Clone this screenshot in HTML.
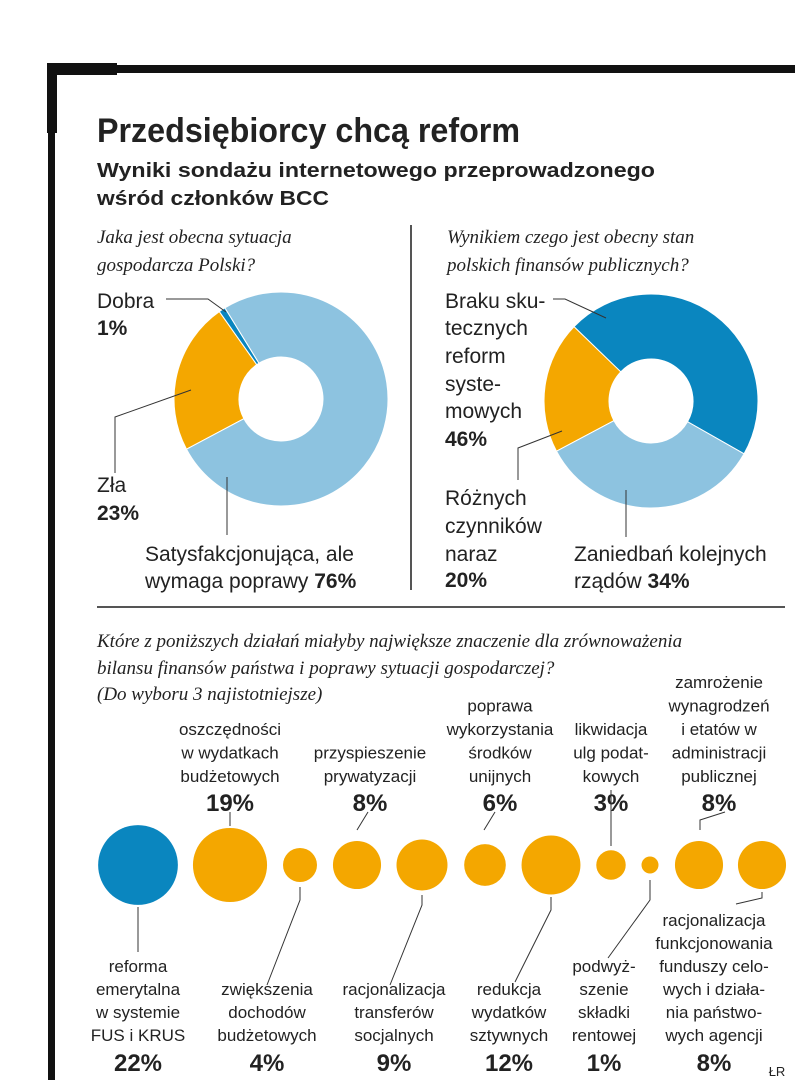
<!DOCTYPE html>
<html><head><meta charset="utf-8"><style>
html,body{margin:0;padding:0;background:#fff}
svg{display:block}
text{font-family:"Liberation Sans",sans-serif;fill:#222}
.q{font-family:"Liberation Serif",serif;font-style:italic;font-size:19px}
.l{font-size:21px}
.b{font-weight:bold}
.s{font-size:17px}
.p{font-size:24px;font-weight:bold}
.ln{stroke:#333;stroke-width:1;fill:none}
</style></head><body>
<svg id="c" width="805" height="1089" viewBox="0 0 805 1089">
<rect x="47" y="63" width="70" height="12" fill="#111"/>
<rect x="47" y="65" width="748" height="8" fill="#111"/>
<rect x="47" y="63" width="10" height="70" fill="#111"/>
<rect x="48" y="63" width="7" height="1017" fill="#111"/>
<text x="97" y="142" class="b" font-size="34" textLength="423" lengthAdjust="spacingAndGlyphs">Przedsiębiorcy chcą reform</text>
<text x="97" y="177" class="b" font-size="20" textLength="558" lengthAdjust="spacingAndGlyphs">Wyniki sondażu internetowego przeprowadzonego</text>
<text x="97" y="205" class="b" font-size="20" textLength="232" lengthAdjust="spacingAndGlyphs">wśród członków BCC</text>
<line x1="411" y1="225" x2="411" y2="590" stroke="#555" stroke-width="2"/>
<line x1="97" y1="607" x2="785" y2="607" stroke="#555" stroke-width="2"/>
<text x="97" y="243" class="q">Jaka jest obecna sytuacja</text>
<text x="97" y="271" class="q">gospodarcza Polski?</text>
<text x="447" y="243" class="q">Wynikiem czego jest obecny stan</text>
<text x="447" y="271" class="q">polskich finansów publicznych?</text>
<g id="pies"></g>
<g>
<text x="97" y="308" class="l">Dobra</text><text x="97" y="335" class="l b">1%</text>
<text x="97" y="492" class="l">Zła</text><text x="97" y="520" class="l b">23%</text>
<text x="145" y="561" class="l">Satysfakcjonująca, ale</text>
<text x="145" y="588" class="l">wymaga poprawy <tspan class="b">76%</tspan></text>
<polyline class="ln" points="166,299 208,299 226,312"/>
<polyline class="ln" points="191,390 115,417 115,473"/>
<polyline class="ln" points="227,477 227,535"/>
</g>
<g>
<text x="445" y="308" class="l">Braku sku-</text><text x="445" y="335" class="l">tecznych</text>
<text x="445" y="363" class="l">reform</text><text x="445" y="391" class="l">syste-</text>
<text x="445" y="418" class="l">mowych</text><text x="445" y="446" class="l b">46%</text>
<text x="445" y="505" class="l">Różnych</text><text x="445" y="533" class="l">czynników</text>
<text x="445" y="561" class="l">naraz</text><text x="445" y="587" class="l b">20%</text>
<text x="574" y="561" class="l">Zaniedbań kolejnych</text>
<text x="574" y="588" class="l">rządów <tspan class="b">34%</tspan></text>
<polyline class="ln" points="553,299 565,299 606,318"/>
<polyline class="ln" points="562,431 518,448 518,480"/>
<polyline class="ln" points="626,490 626,537"/>
</g>
<text x="97" y="647" class="q">Które z poniższych działań miałyby największe znaczenie dla zrównoważenia</text>
<text x="97" y="674" class="q">bilansu finansów państwa i poprawy sytuacji gospodarczej?</text>
<text x="97" y="700" class="q">(Do wyboru 3 najistotniejsze)</text>
<g id="bub"></g>
<g class="ln">
<line x1="230" y1="812" x2="230" y2="826"/>
<polyline points="368,812 357,830"/>
<polyline points="495,812 484,830"/>
<line x1="611" y1="790" x2="611" y2="846"/>
<polyline points="725,812 700,820 700,830"/>
<line x1="138" y1="907" x2="138" y2="952"/>
<polyline points="300,887 300,900 267,985"/>
<polyline points="422,895 422,905 390,985"/>
<polyline points="551,897 551,910 515,982"/>
<polyline points="650,880 650,900 608,958"/>
<polyline points="762,892 762,898 736,904"/>
</g>
<text x="777" y="1076" font-size="13" text-anchor="middle">ŁR</text>
</svg>
<script>
const NS='http://www.w3.org/2000/svg';
const leftLabels=['Zła','Dobra','Satysfakcjonująca'];
const leftValues=[23,1,76];
const leftColors=['#f4a700','#0a86bf','#8dc3e0'];
const rightLabels=['Różnych czynników','Braku reform','Zaniedbań rządów'];
const rightValues=[20,46,34];
const rightColors=['#f4a700','#0a86bf','#8dc3e0'];
const bubbleLabels=['reforma emerytalna','oszczędności','zwiększenia dochodów','przyspieszenie prywatyzacji','racjonalizacja transferów','poprawa środków unijnych','redukcja wydatków','likwidacja ulg','podwyższenie składki','zamrożenie wynagrodzeń','racjonalizacja funduszy'];
const bubbleValues=[22,19,4,8,9,6,12,3,1,8,8];
const topText=[null,['oszczędności','w wydatkach','budżetowych'],null,['przyspieszenie','prywatyzacji'],null,['poprawa','wykorzystania','środków','unijnych'],null,['likwidacja','ulg podat-','kowych'],null,['zamrożenie','wynagrodzeń','i etatów w','administracji','publicznej'],null];
const botText=[['reforma','emerytalna','w systemie','FUS i KRUS'],null,['zwiększenia','dochodów','budżetowych'],null,['racjonalizacja','transferów','socjalnych'],null,['redukcja','wydatków','sztywnych'],null,['podwyż-','szenie','składki','rentowej'],null,['racjonalizacja','funkcjonowania','funduszy celo-','wych i działa-','nia państwo-','wych agencji']];
function mk(t,a,p){const e=document.createElementNS(NS,t);for(const k in a)e.setAttribute(k,a[k]);p.appendChild(e);return e;}
function donut(cx,cy,R,r,vals,cols,labels,name){
  const g=mk('g',{},document.getElementById('pies'));
  
  
  const tot=vals.reduce((a,b)=>a+b,0);let a=242;
  vals.forEach((v,i)=>{const a2=a+v/tot*360;
    const p=(ang,rad)=>{const t=(ang-90)*Math.PI/180;return [cx+rad*Math.cos(t),cy+rad*Math.sin(t)];};
    const [x1,y1]=p(a,R),[x2,y2]=p(a2,R),[x3,y3]=p(a2,r),[x4,y4]=p(a,r);const lg=(a2-a)>180?1:0;
    const e=mk('path',{d:`M${x1},${y1}A${R},${R} 0 ${lg} 1 ${x2},${y2}L${x3},${y3}A${r},${r} 0 ${lg} 0 ${x4},${y4}Z`,fill:cols[i],stroke:'#fff','stroke-width':1},g);
    
    
    a=a2;});
}
donut(281,399,107,42,leftValues,leftColors,leftLabels,'pie-economic-situation');
donut(651,401,107,42,rightValues,rightColors,rightLabels,'pie-public-finances');
const bx=[138,230,300,357,422,485,551,611,650,699,762];
const bg=document.getElementById('bub');
bubbleValues.forEach((v,i)=>{
  const c=mk('circle',{cx:bx[i],cy:865,r:8.5*Math.sqrt(v),fill:i===0?'#0a86bf':'#f4a700'},bg);
  
  
  const t=topText[i],b=botText[i];
  if(t){t.forEach((s,j)=>{const e=mk('text',{x:bx[i]+(i===9?20:i===3?13:i===5?15:0),y:782-(t.length-1-j)*23.5,'text-anchor':'middle',class:'s'},bg);e.textContent=s;
      
      });
    const p=mk('text',{x:bx[i]+(i===9?20:i===3?13:i===5?15:0),y:811,'text-anchor':'middle',class:'p'},bg);p.textContent=v+'%';
    
    }
  if(b){const cx=[138,0,267,0,394,0,509,0,604,0,714][i];
    b.forEach((s,j)=>{const e=mk('text',{x:cx,y:1041-(b.length-1-j)*23,'text-anchor':'middle',class:'s'},bg);e.textContent=s;
      
      });
    const p=mk('text',{x:cx,y:1071,'text-anchor':'middle',class:'p'},bg);p.textContent=v+'%';
    
    }
});
</script>
</body></html>
